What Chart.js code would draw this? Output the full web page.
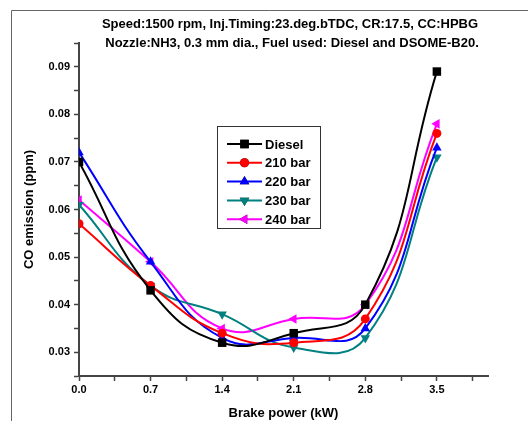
<!DOCTYPE html>
<html>
<head>
<meta charset="utf-8">
<script src="https://cdn.jsdelivr.net/npm/chart.js@4/dist/chart.umd.min.js"></script>
<style>
  html, body { margin: 0; padding: 0; background: #fff; }
  #wrap { position: relative; width: 528px; height: 421px; }
</style>
</head>
<body>
<div id="wrap"><canvas id="chart" width="528" height="421"></canvas></div>
<script>
// ===== data =====
const brakePower = [0.0, 0.7, 1.4, 2.1, 2.8, 3.5];

const diesel = [0.070, 0.043, 0.032, 0.034, 0.040, 0.089];
const bar210 = [0.057, 0.044, 0.034, 0.032, 0.037, 0.076];
const bar220 = [0.072, 0.049, 0.033, 0.033, 0.035, 0.073];
const bar230 = [0.061, 0.044, 0.038, 0.031, 0.033, 0.071];
const bar240 = [0.062, 0.049, 0.035, 0.037, 0.040, 0.078];

const xTicks = [0, 0.35, 0.7, 1.05, 1.4, 1.75, 2.1, 2.45, 2.8, 3.15, 3.5, 3.85];
const xLabels = ["0.0", "", "0.7", "", "1.4", "", "2.1", "", "2.8", "", "3.5", ""];
const yTicks = [0.025, 0.03, 0.035, 0.04, 0.045, 0.05, 0.055, 0.06, 0.065, 0.07, 0.075, 0.08, 0.085, 0.09, 0.095];
const yLabels = ["", "0.03", "", "0.04", "", "0.05", "", "0.06", "", "0.07", "", "0.08", "", "0.09", ""];

const titleLines = [
  "Speed:1500 rpm, Inj.Timing:23.deg.bTDC, CR:17.5, CC:HPBG",
  "Nozzle:NH3, 0.3 mm dia., Fuel used: Diesel and DSOME-B20."
];

const FONT = "'Liberation Sans', Arial, sans-serif";

function series(label, values, color, style, rotation, radius) {
  return {
    label,
    data: brakePower.map((x, i) => ({ x, y: values[i] })),
    borderColor: color,
    backgroundColor: color,
    borderWidth: 2,
    pointStyle: style,
    rotation: rotation,
    pointRadius: radius,
    pointHoverRadius: radius,
    pointBorderWidth: 0,
    tension: 0.45,
    fill: false
  };
}

const datasets = [
  series("Diesel", diesel, "#000000", "rect", 0, 6),
  series("210 bar", bar210, "#ff0000", "circle", 0, 4.5),
  series("220 bar", bar220, "#0000ff", "triangle", 0, 5.5),
  series("230 bar", bar230, "#008080", "triangle", 180, 5.5),
  series("240 bar", bar240, "#ff00ff", "triangle", -90, 5.5)
];

// frame, title and boxed legend
const decor = {
  id: "decor",
  beforeDraw(chart) {
    const c = chart.ctx;
    c.save();
    c.strokeStyle = "#666";
    c.lineWidth = 1;
    c.beginPath();
    c.moveTo(11.5, 421);
    c.lineTo(11.5, 10.5);
    c.lineTo(528, 10.5);
    c.stroke();
    c.restore();
  },
  afterDraw(chart) {
    const c = chart.ctx;
    c.save();
    c.fillStyle = "#000";
    c.font = "bold 13px " + FONT;
    c.textAlign = "center";
    c.textBaseline = "middle";
    c.fillText(titleLines[0], 290, 24);
    c.fillText(titleLines[1], 292, 43);

    // legend
    const bx = 217, by = 126, bw = 103, bh = 102;
    c.strokeStyle = "#333";
    c.lineWidth = 1;
    c.strokeRect(bx + 0.5, by + 0.5, bw, bh);
    c.font = "bold 13px " + FONT;
    c.textAlign = "left";
    chart.data.datasets.forEach((ds, i) => {
      const y = 144 + i * 18.8;
      c.strokeStyle = ds.borderColor;
      c.lineWidth = 2;
      c.beginPath();
      c.moveTo(227, y);
      c.lineTo(262, y);
      c.stroke();
      Chart.helpers.drawPoint(c, {
        pointStyle: ds.pointStyle,
        rotation: ds.rotation,
        radius: ds.pointRadius,
        borderWidth: 0
      }, 244.5, y);
      c.fillStyle = ds.borderColor;
      c.fill();
      c.fillStyle = "#000";
      c.fillText(ds.label, 265, y + 1);
    });
    c.restore();
  }
};

new Chart(document.getElementById("chart"), {
  type: "line",
  data: { datasets },
  plugins: [decor],
  options: {
    responsive: false,
    animation: false,
    layout: { padding: { top: 43, right: 40, left: 0, bottom: 0 } },
    plugins: {
      legend: { display: false },
      tooltip: { enabled: false },
      title: { display: false }
    },
    scales: {
      x: {
        type: "linear",
        min: 0,
        max: 4.0,
        afterBuildTicks: (s) => { s.ticks = xTicks.map(v => ({ value: v })); },
        afterFit: (s) => { s.height = 45; },
        border: { color: "#444", width: 2 },
        grid: { drawOnChartArea: false, tickLength: 5, color: "#444", tickWidth: 1.5 },
        ticks: {
          autoSkip: false,
          maxRotation: 0,
          padding: 2,
          color: "#000",
          font: { family: FONT, size: 11, weight: "bold" },
          callback: (v, i) => xLabels[i]
        },
        title: {
          display: true,
          text: "Brake power (kW)",
          color: "#000",
          font: { family: FONT, size: 13, weight: "bold" },
          padding: { top: 6, bottom: 0 }
        }
      },
      y: {
        type: "linear",
        min: 0.025,
        max: 0.095,
        afterBuildTicks: (s) => { s.ticks = yTicks.map(v => ({ value: v })); },
        afterFit: (s) => { s.width = 79; },
        border: { color: "#444", width: 2 },
        grid: { drawOnChartArea: false, tickLength: 5, color: "#444", tickWidth: 1.5 },
        ticks: {
          autoSkip: false,
          padding: 4,
          color: "#000",
          font: { family: FONT, size: 11, weight: "bold" },
          callback: (v, i) => yLabels[i]
        },
        title: {
          display: true,
          text: "CO emission (ppm)",
          color: "#000",
          font: { family: FONT, size: 13, weight: "bold" },
          padding: { top: 22, bottom: 0 }
        }
      }
    }
  }
});
</script>
</body>
</html>
